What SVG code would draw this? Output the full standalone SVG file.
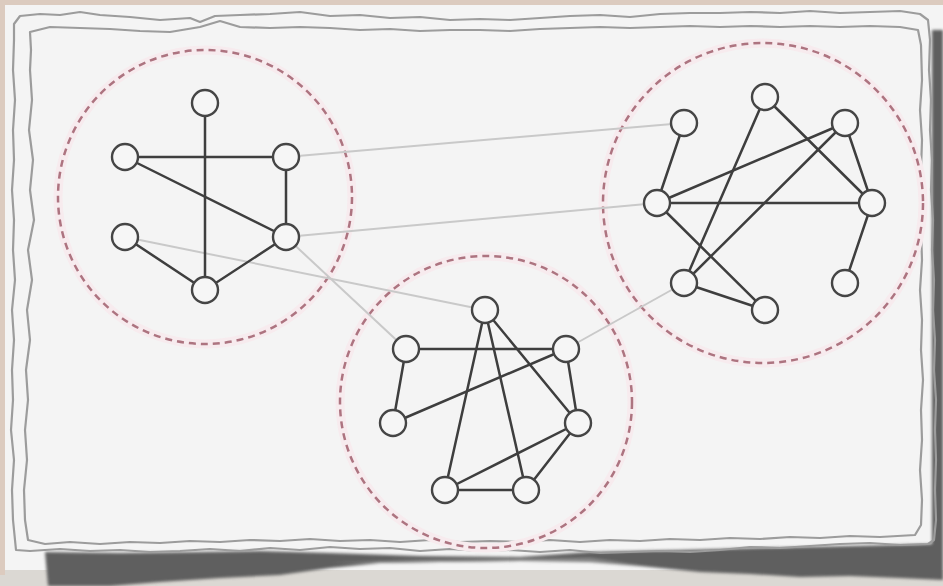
<svg xmlns="http://www.w3.org/2000/svg" width="943" height="586" viewBox="0 0 943 586">
<defs>
<style>
.edge{stroke:#3e3e3e;stroke-width:2.5;fill:none;stroke-linecap:round}
.link{stroke:#c9c9c9;stroke-width:2;fill:none}
.node{fill:#f6f6f6;stroke:#454545;stroke-width:2.4}
.halo{fill:none;stroke:#f7ebee;stroke-width:9}
.ring{fill:none;stroke:#ad7480;stroke-width:2.5;stroke-dasharray:7 5}
.edgeline{fill:none;stroke:#9c9c9c;stroke-width:2.2;stroke-linejoin:round}
</style>
<filter id="soft" x="-5%" y="-20%" width="110%" height="140%"><feGaussianBlur stdDeviation="1.8"/></filter>
</defs>
<g id="background">
<rect x="0" y="0" width="943" height="586" fill="#dbd8d3"/>
<rect x="0" y="0" width="943" height="5" fill="#dccbbf"/>
<rect x="0" y="0" width="5" height="575" fill="#dccbbf"/>
<rect x="5" y="5" width="938" height="565" fill="#f4f4f4"/>
<g filter="url(#soft)">
<path d="M45,552 L120,553 L200,552 L260,551 L330,553 L420,556 L520,557 L590,552 L680,550 L760,548 L850,546 L932,544 L932,30 L943,30 L943,580 L900,578 L850,576 L800,577 L750,574 L700,572 L640,566 L590,562 L520,561 L440,562 L380,563 L330,568 L280,575 L220,578 L160,582 L110,586 L48,586 Z" fill="#5f5f5f"/>
<path d="M330,563 L420,560 L520,559 L590,558 L640,565 L590,561 L520,561 L440,562 L380,563 Z" fill="#8a8a8a"/>
</g>
<path d="M14,24 L20,16 L40,14 L60,15 L80,12 L100,15 L130,17 L160,20 L190,18 L200,22 L215,16 L240,15 L270,14 L300,12 L330,16 L360,15 L390,18 L420,17 L450,20 L480,19 L510,20 L540,18 L570,16 L600,15 L630,17 L660,14 L690,13 L720,13 L750,12 L780,13 L810,11 L840,13 L870,12 L900,11 L920,14 L928,20 L930,40 L929,70 L931,100 L930,130 L932,160 L931,190 L933,220 L932,250 L934,280 L933,310 L935,340 L934,370 L936,400 L935,430 L936,460 L935,490 L936,520 L934,540 L928,544 L900,545 L870,543 L840,544 L810,546 L780,548 L750,547 L720,550 L690,552 L660,551 L630,552 L600,553 L570,550 L540,552 L510,550 L480,551 L450,549 L420,551 L390,548 L360,549 L330,547 L300,550 L270,548 L240,551 L210,549 L180,551 L150,552 L120,550 L90,551 L60,549 L30,551 L16,550 L13,520 L12,490 L14,460 L11,430 L13,400 L12,370 L14,340 L12,310 L15,280 L13,250 L14,220 L12,190 L14,160 L13,130 L15,100 L13,70 L14,40 Z" fill="#fafafa" class="edgeline"/>
<path d="M30,32 L50,27 L80,28 L110,29 L140,31 L170,32 L200,27 L220,21 L240,27 L270,28 L300,27 L330,28 L360,30 L390,29 L420,31 L450,30 L480,30 L510,31 L540,29 L570,28 L600,27 L630,28 L660,27 L690,26 L720,27 L750,26 L780,27 L810,26 L840,27 L870,26 L900,27 L918,30 L921,45 L922,80 L920,110 L922,140 L921,170 L923,200 L921,230 L922,260 L920,290 L922,320 L921,350 L923,380 L921,410 L922,440 L920,470 L922,500 L921,525 L915,535 L880,537 L850,536 L820,538 L790,537 L760,539 L730,538 L700,540 L670,539 L640,541 L610,540 L580,542 L550,540 L520,542 L490,541 L460,542 L430,540 L400,542 L370,540 L340,541 L310,539 L280,541 L250,540 L220,542 L190,541 L160,543 L130,542 L100,544 L70,542 L45,544 L28,540 L25,520 L24,490 L27,460 L25,430 L28,400 L26,370 L30,340 L27,310 L32,280 L28,250 L34,220 L30,190 L33,160 L29,130 L32,100 L30,70 L31,50 Z" fill="#f3f3f3" class="edgeline"/>
</g>
<g id="clusters">
<circle class="halo" cx="205" cy="197" r="147"/>
<circle class="halo" cx="486" cy="402" r="146"/>
<circle class="halo" cx="763" cy="203" r="160"/>
<circle class="ring" cx="205" cy="197" r="147"/>
<circle class="ring" cx="486" cy="402" r="146"/>
<circle class="ring" cx="763" cy="203" r="160"/>
</g>
<g id="connectors">
<g id="links">
<line class="link" x1="286" y1="157" x2="684" y2="123"/>
<line class="link" x1="286" y1="237" x2="657" y2="203"/>
<line class="link" x1="125" y1="237" x2="485" y2="310"/>
<line class="link" x1="286" y1="237" x2="406" y2="349"/>
<line class="link" x1="566" y1="349" x2="684" y2="283"/>
</g>
<g id="edges">
<line class="edge" x1="205" y1="103" x2="205" y2="290"/>
<line class="edge" x1="125" y1="157" x2="286" y2="157"/>
<line class="edge" x1="125" y1="157" x2="286" y2="237"/>
<line class="edge" x1="286" y1="157" x2="286" y2="237"/>
<line class="edge" x1="125" y1="237" x2="205" y2="290"/>
<line class="edge" x1="286" y1="237" x2="205" y2="290"/>
<line class="edge" x1="406" y1="349" x2="566" y2="349"/>
<line class="edge" x1="406" y1="349" x2="393" y2="423"/>
<line class="edge" x1="393" y1="423" x2="566" y2="349"/>
<line class="edge" x1="485" y1="310" x2="445" y2="490"/>
<line class="edge" x1="485" y1="310" x2="526" y2="490"/>
<line class="edge" x1="485" y1="310" x2="578" y2="423"/>
<line class="edge" x1="566" y1="349" x2="578" y2="423"/>
<line class="edge" x1="578" y1="423" x2="445" y2="490"/>
<line class="edge" x1="578" y1="423" x2="526" y2="490"/>
<line class="edge" x1="445" y1="490" x2="526" y2="490"/>
<line class="edge" x1="684" y1="123" x2="657" y2="203"/>
<line class="edge" x1="657" y1="203" x2="872" y2="203"/>
<line class="edge" x1="657" y1="203" x2="845" y2="123"/>
<line class="edge" x1="657" y1="203" x2="765" y2="310"/>
<line class="edge" x1="765" y1="97" x2="684" y2="283"/>
<line class="edge" x1="765" y1="97" x2="872" y2="203"/>
<line class="edge" x1="845" y1="123" x2="872" y2="203"/>
<line class="edge" x1="845" y1="123" x2="684" y2="283"/>
<line class="edge" x1="684" y1="283" x2="765" y2="310"/>
<line class="edge" x1="872" y1="203" x2="845" y2="283"/>
</g>
</g>
<g id="nodes">
<circle id="a1" class="node" cx="205" cy="103" r="13"/>
<circle id="a2" class="node" cx="125" cy="157" r="13"/>
<circle id="a3" class="node" cx="286" cy="157" r="13"/>
<circle id="a4" class="node" cx="125" cy="237" r="13"/>
<circle id="a5" class="node" cx="286" cy="237" r="13"/>
<circle id="a6" class="node" cx="205" cy="290" r="13"/>
<circle id="b1" class="node" cx="485" cy="310" r="13"/>
<circle id="b2" class="node" cx="406" cy="349" r="13"/>
<circle id="b3" class="node" cx="566" cy="349" r="13"/>
<circle id="b4" class="node" cx="393" cy="423" r="13"/>
<circle id="b5" class="node" cx="578" cy="423" r="13"/>
<circle id="b6" class="node" cx="445" cy="490" r="13"/>
<circle id="b7" class="node" cx="526" cy="490" r="13"/>
<circle id="c1" class="node" cx="684" cy="123" r="13"/>
<circle id="c2" class="node" cx="765" cy="97" r="13"/>
<circle id="c3" class="node" cx="845" cy="123" r="13"/>
<circle id="c4" class="node" cx="657" cy="203" r="13"/>
<circle id="c5" class="node" cx="872" cy="203" r="13"/>
<circle id="c6" class="node" cx="684" cy="283" r="13"/>
<circle id="c7" class="node" cx="845" cy="283" r="13"/>
<circle id="c8" class="node" cx="765" cy="310" r="13"/>
</g>
</svg>
